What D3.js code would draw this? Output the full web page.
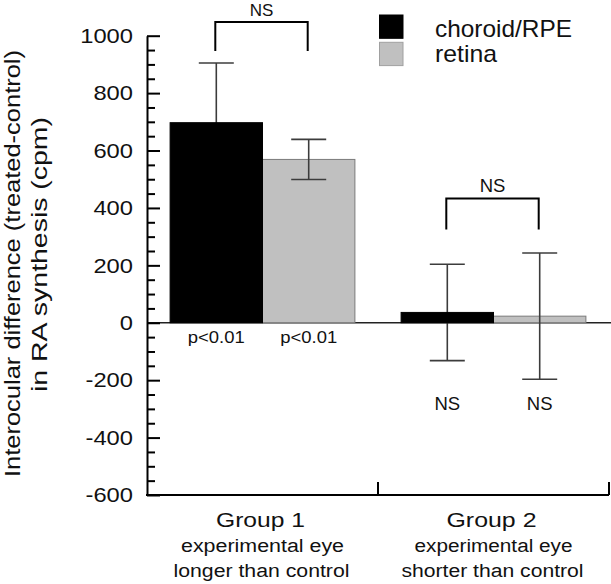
<!DOCTYPE html>
<html>
<head>
<meta charset="utf-8">
<script src="https://cdn.jsdelivr.net/npm/d3@7"></script>
<style>
  html, body { margin: 0; padding: 0; background: #fff; }
  svg { display: block; font-family: "Liberation Sans", Arial, Helvetica, sans-serif; }
</style>
</head>
<body>
<svg id="chart" width="611" height="584"></svg>
<script>
// ---- data ----
const categories = ["Group 1", "Group 2"];
const subtitleLine1 = ["experimental eye", "experimental eye"];
const subtitleLine2 = ["longer than control", "shorter than control"];
const series = ["choroid/RPE", "retina"];
const choroidValues = [697, 36];
const retinaValues = [569, 23];
const choroidErr = [208, 168];
const retinaErr = [70, 220];
const yMajorTicks = [-600, -400, -200, 0, 200, 400, 600, 800, 1000];
const belowLabels = [["p<0.01", "p<0.01"], ["NS", "NS"]];
const bracketLabels = ["NS", "NS"];
const bracketTopValues = [1048, 433];
const bracketLegValues = [947, 325];
const yTitleLines = ["Interocular difference (treated-control)", "in RA synthesis (cpm)"];

// ---- style ----
const colors = { "choroid/RPE": "#000000", "retina": "#c0c0c0" };
const svg = d3.select("#chart");

const y = d3.scaleLinear().domain([-600, 1000]).range([495, 35.7]);
const x = d3.scaleBand().domain(categories).range([147, 609]).paddingInner(0).paddingOuter(0);
const xs = d3.scaleBand().domain(series).range([0, x.bandwidth()]).paddingInner(0).paddingOuter(0.25);

const valuesBySeries = { "choroid/RPE": choroidValues, "retina": retinaValues };
const errBySeries = { "choroid/RPE": choroidErr, "retina": retinaErr };

const rows = [];
categories.forEach((c, i) => series.forEach(s => rows.push({ cat: c, i, s, v: valuesBySeries[s][i], e: errBySeries[s][i] })));
const cx = d => x(d.cat) + xs(d.s) + xs.bandwidth() / 2;

// zero line
svg.append("line")
  .attr("x1", x.range()[0]).attr("x2", 611)
  .attr("y1", y(0)).attr("y2", y(0))
  .attr("stroke", "#222").attr("stroke-width", 1.4);

function drawBars(data) {
  svg.append("g").selectAll("rect").data(data).join("rect")
    .attr("x", d => x(d.cat) + xs(d.s))
    .attr("width", xs.bandwidth())
    .attr("y", d => y(Math.max(0, d.v)))
    .attr("height", d => Math.abs(y(d.v) - y(0)))
    .attr("fill", d => colors[d.s])
    .attr("stroke", d => d.s === "retina" ? "#7a7a7a" : "#000")
    .attr("stroke-width", 1);
}

// retina bars first, then error bars, then choroid bars (which hide their own lower whisker)
drawBars(rows.filter(d => d.s === "retina"));

const eb = svg.append("g").attr("stroke", "#3c3c3c").attr("stroke-width", 1.6);
rows.forEach(d => {
  eb.append("line").attr("x1", cx(d)).attr("x2", cx(d)).attr("y1", y(d.v + d.e)).attr("y2", y(d.v - d.e));
  [d.v + d.e, d.v - d.e].forEach(val => {
    eb.append("line").attr("x1", cx(d) - 17.5).attr("x2", cx(d) + 17.5).attr("y1", y(val)).attr("y2", y(val));
  });
});

drawBars(rows.filter(d => d.s === "choroid/RPE" && d.v > 100));
// small choroid bar in group 2: error line remains visible over it? reference shows it hidden
drawBars(rows.filter(d => d.s === "choroid/RPE" && d.v <= 100));

// y axis (major)
const yAxis = d3.axisLeft(y).tickValues(yMajorTicks).tickSizeInner(-13).tickSizeOuter(0).tickPadding(14).tickFormat(d3.format("d"));
const gy = svg.append("g").attr("transform", `translate(${x.range()[0]},0)`).call(yAxis);
gy.select(".domain").attr("stroke", "#000").attr("stroke-width", 2);
gy.selectAll(".tick line").attr("stroke", "#000").attr("stroke-width", 2);
gy.selectAll(".tick text")
  .attr("font-size", 21).attr("fill", "#111")
  .attr("font-family", "'Liberation Sans', Arial, sans-serif")
  .attr("x", -14 / 1.13).attr("transform", "scale(1.13,1)")
  .text(d => d < 0 ? "-" + Math.abs(d) : d);

// y axis minor ticks
const minor = d3.range(-600, 1001, 50).filter(v => !yMajorTicks.includes(v));
const yMinor = d3.axisLeft(y).tickValues(minor).tickSizeInner(-8).tickSizeOuter(0).tickFormat("");
const gym = svg.append("g").attr("transform", `translate(${x.range()[0]},0)`).call(yMinor);
gym.select(".domain").remove();
gym.selectAll(".tick line").attr("stroke", "#000").attr("stroke-width", 2);

// x axis
const gx = svg.append("g");
gx.append("line").attr("x1", x.range()[0] - 1).attr("x2", x.range()[1]).attr("y1", y(-600)).attr("y2", y(-600))
  .attr("stroke", "#000").attr("stroke-width", 2);
categories.forEach(c => {
  const tx = x(c) + x.bandwidth();
  gx.append("line").attr("x1", tx).attr("x2", tx).attr("y1", y(-600)).attr("y2", y(-600) - 13)
    .attr("stroke", "#000").attr("stroke-width", 2);
});

// x labels
const groupWidths = [89, 90];
const sub1Widths = [163, 158];
const sub2Widths = [176, 182];
categories.forEach((c, i) => {
  const mx = x(c) + x.bandwidth() / 2;
  gx.append("text").attr("x", mx - 2).attr("y", 526.5).attr("text-anchor", "middle")
    .attr("font-size", 21).attr("fill", "#111")
    .attr("textLength", groupWidths[i]).attr("lengthAdjust", "spacingAndGlyphs").text(c);
  gx.append("text").attr("x", mx).attr("y", 552).attr("text-anchor", "middle")
    .attr("font-size", 18).attr("fill", "#111")
    .attr("textLength", sub1Widths[i]).attr("lengthAdjust", "spacingAndGlyphs").text(subtitleLine1[i]);
  gx.append("text").attr("x", mx - 1).attr("y", 577).attr("text-anchor", "middle")
    .attr("font-size", 18).attr("fill", "#111")
    .attr("textLength", sub2Widths[i]).attr("lengthAdjust", "spacingAndGlyphs").text(subtitleLine2[i]);
});

// labels below bars
const belowY = [343, 410];
categories.forEach((c, i) => {
  series.forEach((s, j) => {
    const d = rows.find(r => r.cat === c && r.s === s);
    const t = belowLabels[i][j];
    svg.append("text").attr("x", cx(d)).attr("y", belowY[i]).attr("text-anchor", "middle")
      .attr("font-size", t === "NS" ? 18.5 : 16.5).attr("fill", "#111")
      .attr("textLength", t === "NS" ? null : 57).attr("lengthAdjust", "spacingAndGlyphs")
      .text(t);
  });
});

// brackets
categories.forEach((c, i) => {
  const a = rows.find(r => r.cat === c && r.s === series[0]);
  const b = rows.find(r => r.cat === c && r.s === series[1]);
  const x1 = cx(a) - 1, x2 = cx(b) - 1;
  svg.append("path")
    .attr("d", `M${x1},${y(bracketLegValues[i])}V${y(bracketTopValues[i])}H${x2}V${y(bracketLegValues[i])}`)
    .attr("fill", "none").attr("stroke", "#000").attr("stroke-width", 2);
  svg.append("text").attr("x", (x1 + x2) / 2).attr("y", y(bracketTopValues[i]) - 6)
    .attr("text-anchor", "middle").attr("font-size", i === 0 ? 17 : 18.5).attr("fill", "#111").text(bracketLabels[i]);
});

// legend
const legend = svg.append("g");
series.forEach((s, i) => {
  legend.append("rect").attr("x", 379.5).attr("y", 15 + i * 27.3).attr("width", 23.5).attr("height", 23.3)
    .attr("fill", colors[s]).attr("stroke", i === 0 ? "#000" : "#a0a0a0").attr("stroke-width", 1);
  legend.append("text").attr("x", 435).attr("y", 36.5 + i * 25.3)
    .attr("font-size", 24).attr("fill", "#111")
    .attr("textLength", i === 0 ? 137 : 62).attr("lengthAdjust", "spacingAndGlyphs").text(s);
});

// y title
const titlePos = [{ bx: 19.5, cy: 263.5, len: 427 }, { bx: 46.5, cy: 254.5, len: 275 }];
yTitleLines.forEach((t, i) => {
  svg.append("text")
    .attr("transform", `translate(${titlePos[i].bx},${titlePos[i].cy}) rotate(-90)`)
    .attr("text-anchor", "middle").attr("font-size", 22).attr("fill", "#111")
    .attr("textLength", titlePos[i].len).attr("lengthAdjust", "spacingAndGlyphs").text(t);
});
</script>
</body>
</html>
